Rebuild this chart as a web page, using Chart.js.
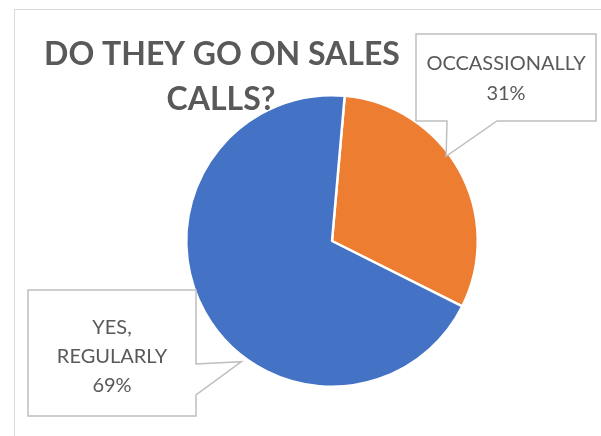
<!DOCTYPE html>
<html>
<head>
<meta charset="utf-8">
<script src="https://cdn.jsdelivr.net/npm/chart.js@4.4.1/dist/chart.umd.min.js"></script>
<style>
  html, body { margin: 0; padding: 0; background: #fff; overflow: hidden; }
  #wrap { position: relative; width: 601px; height: 436px; }
  #frame { position: absolute; left: 14px; top: 9px; width: 700px; height: 500px; border: 1px solid #d9d9d9; }
  #c { position: absolute; left: 0; top: 0; }
</style>
</head>
<body>
<div id="wrap">
  <div id="frame"></div>
  <canvas id="c" width="601" height="436"></canvas>
</div>
<script>
// data
const categories = [['OCCASSIONALLY'], ['YES,', 'REGULARLY']];
const shares = [31, 69];
const sliceColors = ['#ED7D31', '#4472C4'];
const titleLines = ['DO THEY GO ON SALES', 'CALLS?'];

const TEXT = '#595959';
const FONT = 'Lato, "Open Sans", sans-serif';

// callout boxes: box rect, tail base on one edge, tip given as angle (deg, canvas) + radius factor
const callouts = [
  { box: [416, 34, 596, 121], edge: 'bottom', base: [447, 497], tipAngle: -36.6, tipR: 0.975, lineY: [64, 94] },
  { box: [28, 290, 196, 416], edge: 'right', base: [364, 395], tipAngle: 126.9, tipR: 1.035, lineY: [328, 357, 386] }
];

const calloutPlugin = {
  id: 'callouts',
  afterDatasetsDraw(chart) {
    const ctx = chart.ctx;
    const arcs = chart.getDatasetMeta(0).data;
    const total = shares.reduce((a, b) => a + b, 0);

    // title
    ctx.save();
    ctx.fillStyle = TEXT;
    ctx.font = 'bold 32px ' + FONT;
    ctx.textAlign = 'center';
    ctx.textBaseline = 'alphabetic';
    ctx.fillText(titleLines[0], 222, 65);
    ctx.fillText(titleLines[1], 221, 110);
    ctx.restore();

    callouts.forEach((c, i) => {
      const arc = arcs[i];
      const a = c.tipAngle * Math.PI / 180;
      const tx = arc.x + Math.cos(a) * arc.outerRadius * c.tipR;
      const ty = arc.y + Math.sin(a) * arc.outerRadius * c.tipR;
      const [x0, y0, x1, y1] = c.box;

      ctx.save();
      ctx.beginPath();
      if (c.edge === 'bottom') {
        ctx.moveTo(x0, y0); ctx.lineTo(x1, y0); ctx.lineTo(x1, y1);
        ctx.lineTo(c.base[1], y1); ctx.lineTo(tx, ty); ctx.lineTo(c.base[0], y1);
        ctx.lineTo(x0, y1);
      } else {
        ctx.moveTo(x0, y0); ctx.lineTo(x1, y0); ctx.lineTo(x1, c.base[0]);
        ctx.lineTo(tx, ty); ctx.lineTo(x1, c.base[1]); ctx.lineTo(x1, y1);
        ctx.lineTo(x0, y1);
      }
      ctx.closePath();
      ctx.fillStyle = '#fff';
      ctx.fill();
      ctx.lineWidth = 1.5;
      ctx.strokeStyle = '#bfbfbf';
      ctx.stroke();

      const lines = chart.data.labels[i].concat(Math.round(shares[i] / total * 100) + '%');
      ctx.fillStyle = TEXT;
      ctx.font = '20px ' + FONT;
      ctx.textAlign = 'center';
      ctx.textBaseline = 'middle';
      const cx = (x0 + x1) / 2;
      lines.forEach((t, k) => ctx.fillText(t, cx, c.lineY[k]));
      ctx.restore();
    });
  }
};

new Chart(document.getElementById('c'), {
  type: 'pie',
  data: {
    labels: categories,
    datasets: [{
      data: shares,
      backgroundColor: sliceColors,
      borderColor: '#ffffff',
      borderWidth: 2.5,
      hoverOffset: 0
    }]
  },
  options: {
    responsive: false,
    animation: false,
    rotation: 5,
    layout: { padding: { left: 185, right: 122, top: 94, bottom: 48 } },
    plugins: {
      legend: { display: false },
      title: { display: false },
      tooltip: { enabled: false }
    }
  },
  plugins: [calloutPlugin]
});
</script>
</body>
</html>
